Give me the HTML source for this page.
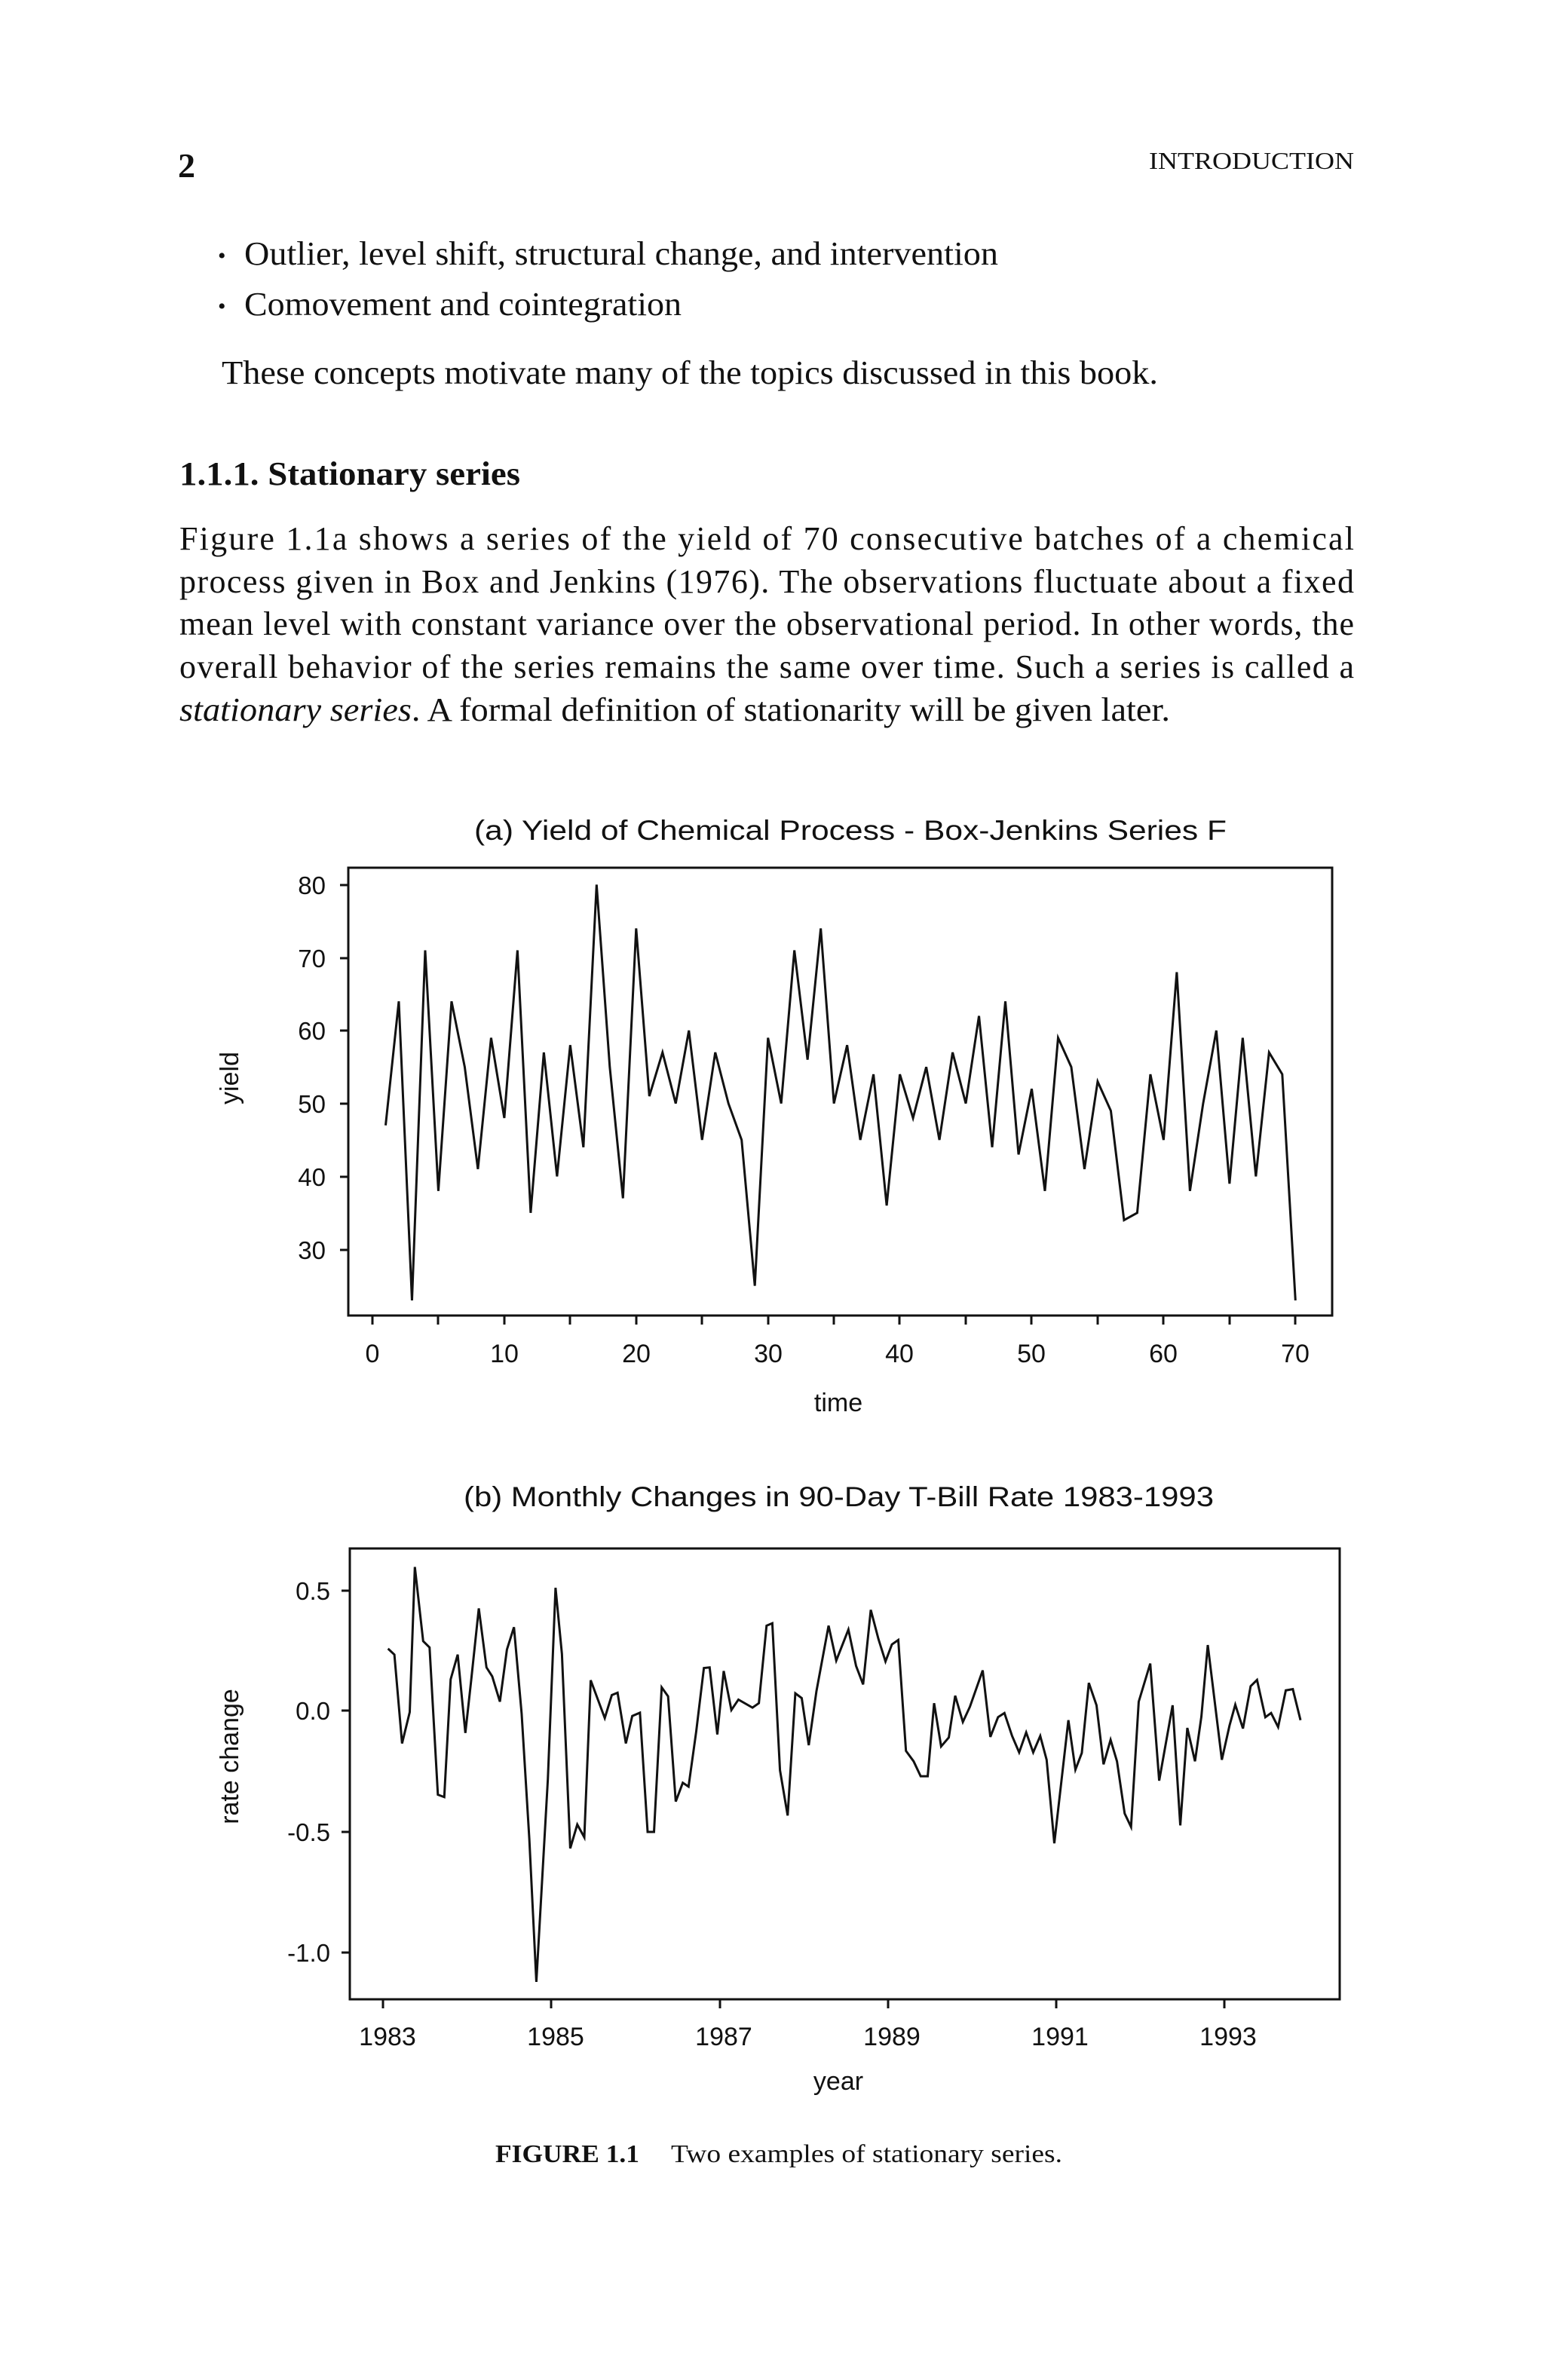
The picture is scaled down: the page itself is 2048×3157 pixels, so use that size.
<!DOCTYPE html>
<html><head><meta charset="utf-8"><style>
html,body{margin:0;padding:0;background:#fff}
svg{display:block}
.t{font-family:"Liberation Serif",serif;fill:#111}
.s{font-family:"Liberation Sans",sans-serif;fill:#111}
</style></head><body>
<svg width="2048" height="3157" viewBox="0 0 2048 3157" xmlns="http://www.w3.org/2000/svg">
<rect width="2048" height="3157" fill="#fff"/>
<!-- header -->
<text class="t" x="236" y="235" font-size="46" font-weight="bold">2</text>
<text class="t" x="1796" y="224" font-size="32" text-anchor="end" textLength="272" lengthAdjust="spacingAndGlyphs">INTRODUCTION</text>
<text class="t" x="289" y="349" font-size="30">•</text>
<text class="t" x="324" y="351" font-size="44" textLength="1000" lengthAdjust="spacingAndGlyphs">Outlier, level shift, structural change, and intervention</text>
<text class="t" x="289" y="416" font-size="30">•</text>
<text class="t" x="324" y="418" font-size="44" textLength="580" lengthAdjust="spacingAndGlyphs">Comovement and cointegration</text>
<text class="t" x="294" y="509" font-size="44" textLength="1242" lengthAdjust="spacingAndGlyphs">These concepts motivate many of the topics discussed in this book.</text>
<text class="t" x="238" y="643" font-size="44" font-weight="bold" textLength="452" lengthAdjust="spacingAndGlyphs">1.1.1. Stationary series</text>
<text class="t" x="238" y="729" font-size="44" textLength="1558" lengthAdjust="spacing">Figure 1.1a shows a series of the yield of 70 consecutive batches of a chemical</text>
<text class="t" x="238" y="786" font-size="44" textLength="1558" lengthAdjust="spacing">process given in Box and Jenkins (1976). The observations fluctuate about a fixed</text>
<text class="t" x="238" y="842" font-size="44" textLength="1558" lengthAdjust="spacing">mean level with constant variance over the observational period. In other words, the</text>
<text class="t" x="238" y="899" font-size="44" textLength="1558" lengthAdjust="spacing">overall behavior of the series remains the same over time. Such a series is called a</text>
<text class="t" x="238" y="956" font-size="44" textLength="1314" lengthAdjust="spacingAndGlyphs"><tspan font-style="italic">stationary series</tspan>. A formal definition of stationarity will be given later.</text>

<!-- chart a -->
<text class="s" x="629" y="1114" font-size="37" textLength="998" lengthAdjust="spacingAndGlyphs">(a) Yield of Chemical Process - Box-Jenkins Series F</text>
<rect x="462" y="1151" width="1305" height="594" fill="none" stroke="#111" stroke-width="3"/>
<g stroke="#111" stroke-width="3">
<line x1="451" y1="1174" x2="462" y2="1174"/><line x1="451" y1="1271" x2="462" y2="1271"/>
<line x1="451" y1="1367" x2="462" y2="1367"/><line x1="451" y1="1464" x2="462" y2="1464"/>
<line x1="451" y1="1561" x2="462" y2="1561"/><line x1="451" y1="1658" x2="462" y2="1658"/>
<line x1="494" y1="1745" x2="494" y2="1757"/><line x1="581" y1="1745" x2="581" y2="1757"/>
<line x1="669" y1="1745" x2="669" y2="1757"/><line x1="756" y1="1745" x2="756" y2="1757"/>
<line x1="844" y1="1745" x2="844" y2="1757"/><line x1="931" y1="1745" x2="931" y2="1757"/>
<line x1="1019" y1="1745" x2="1019" y2="1757"/><line x1="1106" y1="1745" x2="1106" y2="1757"/>
<line x1="1193" y1="1745" x2="1193" y2="1757"/><line x1="1281" y1="1745" x2="1281" y2="1757"/>
<line x1="1368" y1="1745" x2="1368" y2="1757"/><line x1="1456" y1="1745" x2="1456" y2="1757"/>
<line x1="1543" y1="1745" x2="1543" y2="1757"/><line x1="1631" y1="1745" x2="1631" y2="1757"/>
<line x1="1718" y1="1745" x2="1718" y2="1757"/>
</g>
<g class="s" font-size="33" text-anchor="end">
<text x="432" y="1186">80</text><text x="432" y="1283">70</text><text x="432" y="1379">60</text>
<text x="432" y="1476">50</text><text x="432" y="1573">40</text><text x="432" y="1670">30</text>
</g>
<g class="s" font-size="34" text-anchor="middle">
<text x="494" y="1807">0</text><text x="669" y="1807">10</text><text x="844" y="1807">20</text>
<text x="1019" y="1807">30</text><text x="1193" y="1807">40</text><text x="1368" y="1807">50</text>
<text x="1543" y="1807">60</text><text x="1718" y="1807">70</text>
<text x="1112" y="1872">time</text>
</g>
<text class="s" font-size="34" text-anchor="middle" transform="translate(316,1430) rotate(-90)">yield</text>
<g transform="translate(494,1947.45) scale(17.49,-9.675)">
<polyline fill="none" stroke="#111" stroke-width="3" vector-effect="non-scaling-stroke" stroke-linejoin="miter" points="1,47 2,64 3,23 4,71 5,38 6,64 7,55 8,41 9,59 10,48 11,71 12,35 13,57 14,40 15,58 16,44 17,80 18,55 19,37 20,74 21,51 22,57 23,50 24,60 25,45 26,57 27,50 28,45 29,25 30,59 31,50 32,71 33,56 34,74 35,50 36,58 37,45 38,54 39,36 40,54 41,48 42,55 43,45 44,57 45,50 46,62 47,44 48,64 49,43 50,52 51,38 52,59 53,55 54,41 55,53 56,49 57,34 58,35 59,54 60,45 61,68 62,38 63,50 64,60 65,39 66,59 67,40 68,57 69,54 70,23"/>
</g>

<!-- chart b -->
<text class="s" x="615" y="1998" font-size="37" textLength="995" lengthAdjust="spacingAndGlyphs">(b) Monthly Changes in 90-Day T-Bill Rate 1983-1993</text>
<rect x="464" y="2054" width="1313" height="598" fill="none" stroke="#111" stroke-width="3"/>
<g stroke="#111" stroke-width="3">
<line x1="453" y1="2110" x2="464" y2="2110"/><line x1="453" y1="2269" x2="464" y2="2269"/>
<line x1="453" y1="2430" x2="464" y2="2430"/><line x1="453" y1="2590" x2="464" y2="2590"/>
<line x1="508" y1="2652" x2="508" y2="2664"/><line x1="731" y1="2652" x2="731" y2="2664"/>
<line x1="955" y1="2652" x2="955" y2="2664"/><line x1="1178" y1="2652" x2="1178" y2="2664"/>
<line x1="1401" y1="2652" x2="1401" y2="2664"/><line x1="1624" y1="2652" x2="1624" y2="2664"/>
</g>
<g class="s" font-size="33" text-anchor="end">
<text x="438" y="2122">0.5</text><text x="438" y="2281">0.0</text>
<text x="438" y="2442">-0.5</text><text x="438" y="2602">-1.0</text>
</g>
<g class="s" font-size="34" text-anchor="middle">
<text x="514" y="2713">1983</text><text x="737" y="2713">1985</text><text x="960" y="2713">1987</text>
<text x="1183" y="2713">1989</text><text x="1406" y="2713">1991</text><text x="1629" y="2713">1993</text>
<text x="1112" y="2772">year</text>
</g>
<text class="s" font-size="34" text-anchor="middle" transform="translate(316,2330) rotate(-90)">rate change</text>
<g transform="translate(440,2020) scale(0.8482,0.3954)">
<polyline fill="none" stroke="#111" stroke-width="3" vector-effect="non-scaling-stroke" points="88,422 98,442 110,740 122,635 130,148 143,397 153,418 166,912 176,920 186,525 197,442 209,705 218,530 230,287 242,485 251,515 263,600 274,425 285,350 297,640 309,1060 320,1540 338,860 350,218 360,440 373,1092 384,1012 395,1055 405,528 427,655 438,578 447,570 460,740 470,648 482,637 494,1037 504,1037 516,552 526,582 538,935 549,872 558,885 570,700 582,487 591,485 603,710 613,497 625,628 636,593 658,620 668,605 680,345 689,337 701,830 713,982 725,572 735,588 746,746 758,565 777,345 789,462 808,358 820,480 831,542 843,292 855,390 866,465 876,408 886,393 898,765 910,800 921,850 932,850 942,605 953,750 965,720 975,580 987,668 998,617 1018,495 1030,718 1042,652 1052,638 1064,715 1075,770 1086,703 1097,770 1108,715 1118,795 1130,1075 1152,662 1163,828 1173,772 1184,537 1196,612 1207,810 1218,728 1228,800 1240,975 1250,1020 1262,600 1280,472 1294,865 1315,612 1327,1015 1338,688 1350,800 1360,650 1370,410 1392,795 1404,680 1413,610 1425,690 1437,548 1447,527 1460,652 1469,638 1480,685 1492,562 1503,558 1515,662"/>
</g>

<!-- caption -->
<text class="t" x="657" y="2868" font-size="34" font-weight="bold" textLength="191" lengthAdjust="spacingAndGlyphs">FIGURE 1.1</text>
<text class="t" x="890" y="2868" font-size="34" textLength="519" lengthAdjust="spacingAndGlyphs">Two examples of stationary series.</text>
</svg>
</body></html>
